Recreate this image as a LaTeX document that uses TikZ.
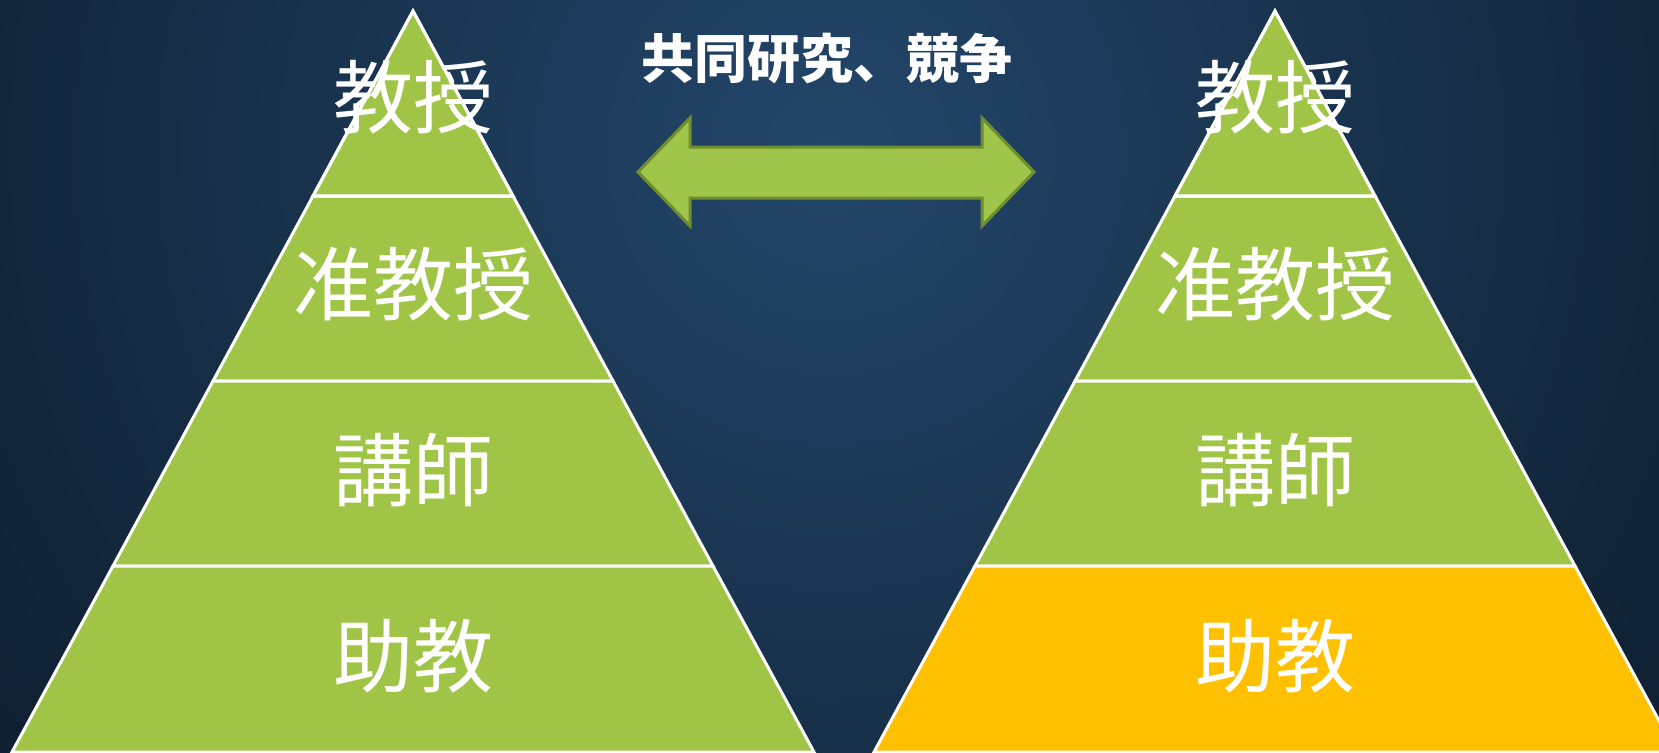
\documentclass[tikz,border=0pt]{standalone}
\usepackage{fontspec}
\newfontfamily\jpfont{Noto Sans CJK JP}
\usetikzlibrary{calc}
\definecolor{bgin}{HTML}{23466A}
\definecolor{bgout}{HTML}{08131F}
\definecolor{pgreen}{HTML}{A0C546}
\definecolor{porange}{HTML}{FFC000}
\definecolor{agreen}{HTML}{9FC54A}
\definecolor{aborder}{HTML}{6F8F2E}
\tikzset{
  band/.style={fill=pgreen, draw=white, line width=3pt, line join=miter},
  bandorange/.style={band, fill=porange},
  lbl/.style={text=white, font=\jpfont\fontsize{80}{96}\selectfont, inner sep=0pt},
  ttl/.style={text=white, font=\jpfont\bfseries\fontsize{53}{64}\selectfont, inner sep=0pt},
  dblarrow/.style={fill=agreen, draw=aborder, line width=3pt, line join=miter}
}
\begin{document}
\begin{tikzpicture}[x=1pt,y=-1pt]
\useasboundingbox (0,0) rectangle (1659,752);
% background
\begin{scope}
\clip (0,0) rectangle (1659,752);
\fill[bgout] (0,0) rectangle (1659,752);
\shade[inner color=bgin, outer color=bgout] (830,150) circle (1350);
\end{scope}
% left pyramid
\fill[band] (413,11) -- (513,196) -- (313,196) -- cycle;
\fill[band] (313,196) -- (513,196) -- (613,381) -- (213,381) -- cycle;
\fill[band] (213,381) -- (613,381) -- (713,566) -- (113,566) -- cycle;
\fill[band] (113,566) -- (713,566) -- (814,752) -- (12,752) -- cycle;
\draw[white, line width=3pt] (413,11) -- (513,196) -- (313,196) -- cycle;
% right pyramid
\fill[band] (1275,11) -- (1375,196) -- (1175,196) -- cycle;
\fill[band] (1175,196) -- (1375,196) -- (1475,381) -- (1075,381) -- cycle;
\fill[band] (1075,381) -- (1475,381) -- (1575,566) -- (975,566) -- cycle;
\fill[bandorange] (975,566) -- (1575,566) -- (1676,752) -- (874,752) -- cycle;
\draw[white, line width=3pt] (1275,11) -- (1375,196) -- (1175,196) -- cycle;
% labels
\node[lbl] (l1) at (413,97) {教授};
\node[lbl] (l2) at (413,284) {准教授};
\node[lbl] (l3) at (413,470) {講師};
\node[lbl] (l4) at (413,656) {助教};
\node[lbl] (r1) at (1275,97) {教授};
\node[lbl] (r2) at (1275,284) {准教授};
\node[lbl] (r3) at (1275,470) {講師};
\node[lbl] (r4) at (1275,656) {助教};
% double arrow
\draw[dblarrow] (638,172) -- (690,118) -- (690,147) -- (982,147) -- (982,118)
  -- (1034,172) -- (982,226) -- (982,198) -- (690,198) -- (690,226) -- cycle;
\node[ttl] (title) at (827,59) {共同研究、競争};
\end{tikzpicture}
\end{document}
